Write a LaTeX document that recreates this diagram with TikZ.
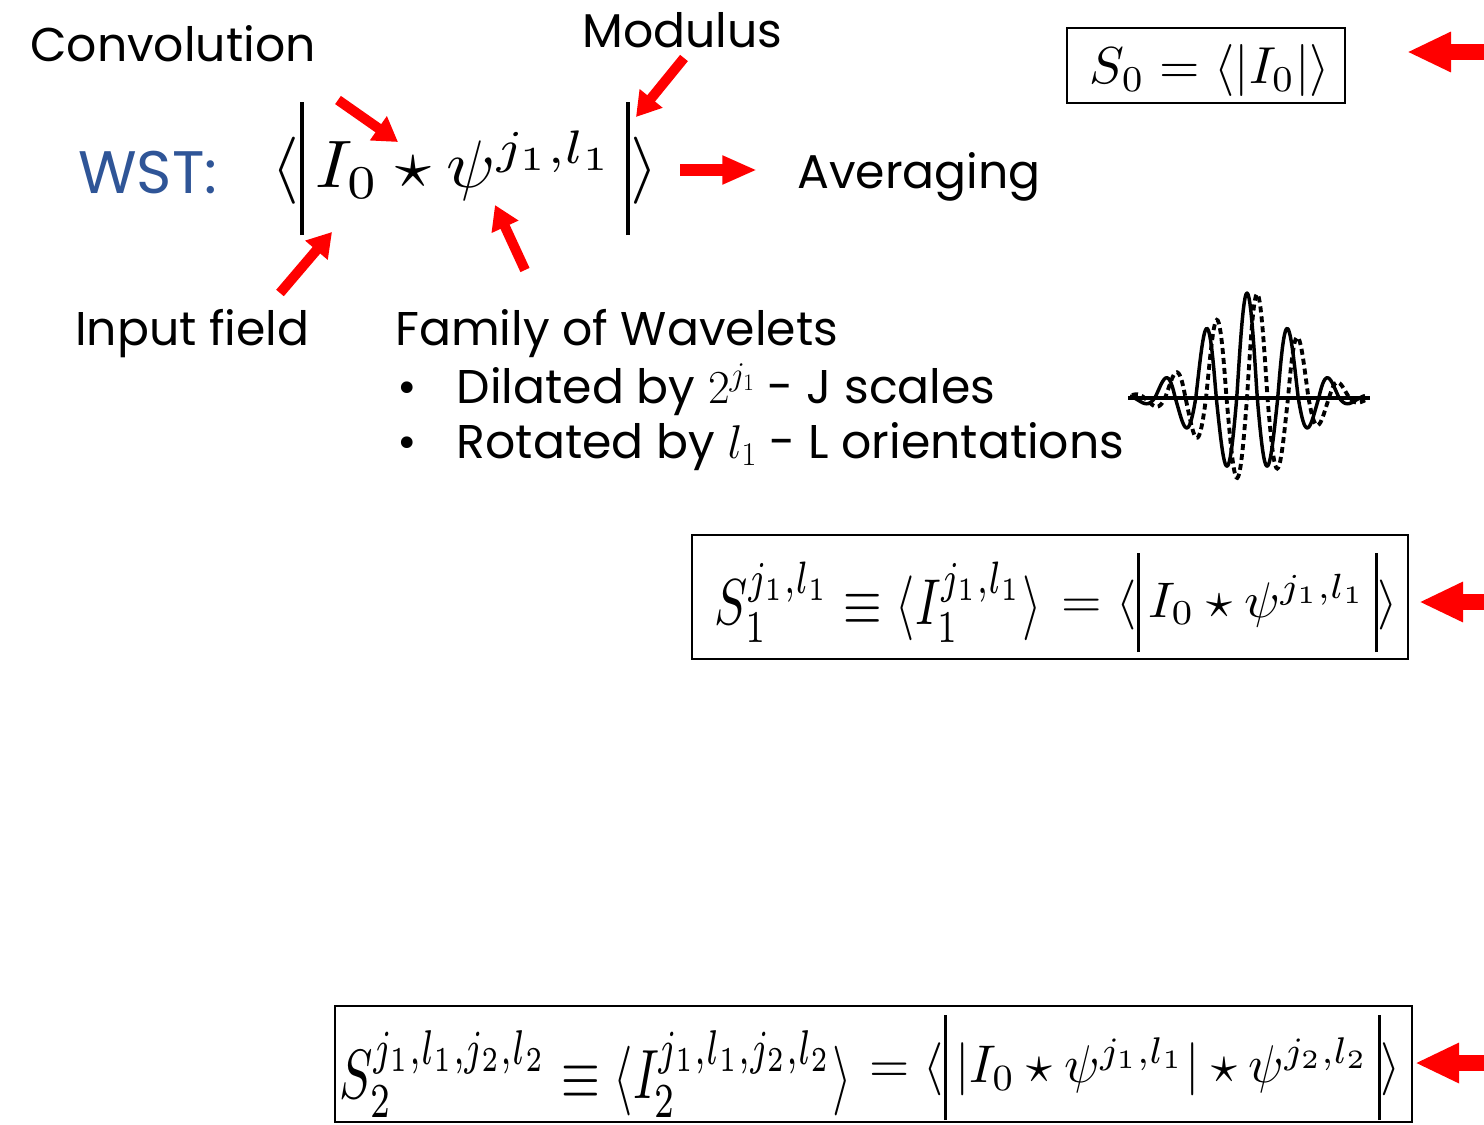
\RequirePackage{fix-cm}
\documentclass[tikz,border=0pt]{standalone}
\usepackage{amsmath}
\usepackage[no-math]{fontspec}
\setmainfont{Poppins}
\usepackage{graphicx}
\usetikzlibrary{positioning,arrows.meta,calc}
\definecolor{wstblue}{RGB}{47,85,151}
\newdimen\pxu \pxu=0.75pt
\newcommand\tbar{\vrule height 12.8pt depth 7pt width 0.55pt}

\begin{document}
\begin{tikzpicture}[x=0.75pt,y=-0.75pt,>=Latex,
  lbl/.style={font=\fontsize{35.5}{43}\selectfont,inner sep=0pt,anchor=base west},
  eqn/.style={inner sep=0pt},
  smallarr/.style={red,line width=7.5pt,-{Triangle[length=18pt,width=21pt]}},
  bigarr/.style={red,line width=12.5pt,-{Triangle[length=33pt,width=28pt]}},
  mathbox/.style={draw,line width=1.6pt,inner sep=0pt}]
  \useasboundingbox (0,0) rectangle (1484,1124);

  \node[lbl] (conv) at (30,62) {Convolution};
  \node[lbl] (modulus) at (582,48) {Modulus};
  \node[lbl,text=wstblue,font=\fontsize{45}{54}\selectfont] (wstlbl) at (78,193) {WST:};
  \node[eqn] (wst) at (465,168.5)
    {\resizebox*{386\pxu}{133\pxu}{$\langle\tbar\,I_0\star\psi^{j_1,l_1}\,\tbar\rangle$}};
  \node[lbl] (avg) at (797,188) {Averaging};
  \node[lbl] (input) at (75,345) {Input field};
  \node[lbl] (family) at (395,345) {Family of Wavelets};
  \node[lbl] (dil) at (397,403) {\textbullet\hspace{30pt}Dilated by $2^{j_1}$ - J scales};
  \node[lbl] (rot) at (397,458) {\textbullet\hspace{30pt}Rotated by $l_1$ - L orientations};

  \coordinate (convtail) at (338,100);  \coordinate (startip) at (398,142);
  \coordinate (modtail) at (684,58);    \coordinate (bartip) at (636,117);
  \coordinate (inputtail) at (280,293); \coordinate (itip) at (332,232);
  \coordinate (famtail) at (525,270);   \coordinate (psitip) at (495,205);
  \coordinate (avgtail) at (680,170);   \coordinate (avgtip) at (757,170);
  \draw[smallarr] (convtail) -- (startip);
  \draw[smallarr] (modtail) -- (bartip);
  \draw[smallarr] (inputtail) -- (itip);
  \draw[smallarr] (famtail) -- (psitip);
  \draw[red,line width=8.5pt,-{Triangle[length=26pt,width=20pt]}] (avgtail) -- (avgtip);

  % wavelet
  \draw[line width=2.6pt] (1128,398) -- (1370,398);
  \draw[line width=2.6pt,line join=round] plot[domain=-117:118,samples=240]
    (1247+\x,{398-max(0,105*exp(-(\x*\x)/4000)*cos(8.7805*\x))-0.72*min(0,105*exp(-(\x*\x)/4000)*cos(8.7805*\x))});
  \draw[line width=2.9pt,dash pattern=on 4.5pt off 3pt] plot[domain=-115:118,samples=240]
    (1247+\x,{398-max(0,105*exp(-((\x-4)*(\x-4))/4000)*sin(8.7805*\x))-0.8*min(0,105*exp(-((\x-4)*(\x-4))/4000)*sin(8.7805*\x))});

  \node[mathbox,minimum width=278\pxu,minimum height=75\pxu] (s0box) at (1206,65.5) {};
  \node[eqn] (s0) at (1210,71)
    {\resizebox*{240\pxu}{52\pxu}{$S_0=\langle|I_0|\rangle$}};
  \node[mathbox,minimum width=716\pxu,minimum height=124\pxu] (s1box) at (1050,597) {};
  \node[eqn] (s1lhs) at (878.5,602)
    {\resizebox*{327\pxu}{80\pxu}{$S_1^{j_1,l_1}\equiv\langle I_1^{j_1,l_1}\rangle$}};
  \node[eqn] (s1rhs) at (1230,602.5)
    {\resizebox*{336\pxu}{99\pxu}{$=\langle\tbar\,I_0\star\psi^{j_1,l_1}\,\tbar\rangle$}};
  \node[mathbox,minimum width=1077\pxu,minimum height=116\pxu] (s2box) at (873.5,1064) {};
  \node[eqn] (s2lhs) at (596,1074)
    {\resizebox*{512\pxu}{86\pxu}{$S_2^{j_1,l_1,j_2,l_2}\equiv\langle I_2^{j_1,l_1,j_2,l_2}\rangle$}};
  \node[eqn] (s2rhs) at (1135,1067.5)
    {\resizebox*{532\pxu}{105\pxu}{$=\langle\tbar\,|I_0\star\psi^{j_1,l_1}|\star\psi^{j_2,l_2}\,\tbar\rangle$}};

  \coordinate (r0) at (1490,52);   \coordinate (r0tip) at (1407,52);
  \coordinate (r1) at (1490,602);  \coordinate (r2) at (1490,1063);
  \draw[bigarr] (r0) -- (r0tip);
  \draw[bigarr] (r1) -- ([xshift=10\pxu]s1box.east |- r1);
  \draw[bigarr] (r2) -- ([xshift=2\pxu]s2box.east |- r2);
\end{tikzpicture}
\end{document}
